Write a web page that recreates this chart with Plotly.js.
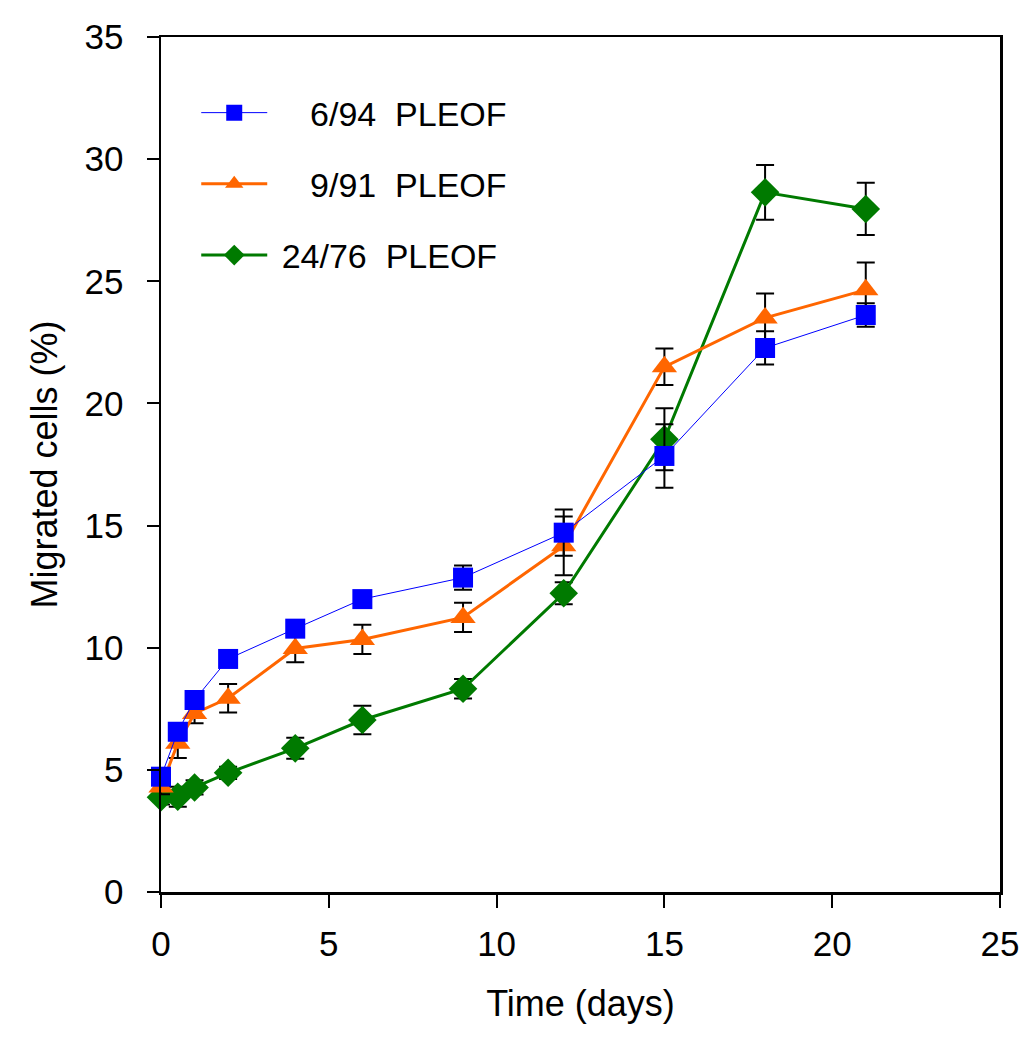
<!DOCTYPE html>
<html>
<head>
<meta charset="utf-8">
<script src="https://cdn.plot.ly/plotly-3.0.1.min.js"></script>
<style>
  html, body { margin: 0; padding: 0; background: #fff; }
  #chart { width: 1033px; height: 1050px; }
</style>
</head>
<body>
<div id="chart"></div>
<script>
// Time points (days)
const days = [0, 0.5, 1, 2, 4, 6, 9, 12, 15, 18, 21];

// 6/94 PLEOF
const pleof694 = [4.72, 6.56, 7.86, 9.54, 10.78, 11.99, 12.87, 14.71, 17.85, 22.27, 23.62];
const pleof694Err = [0.3, 0.3, 0.3, 0.3, 0.3, 0.3, 0.5, 0.95, 1.3, 0.68, 0.48];

// 9/91 PLEOF
const pleof991 = [4.3, 6.09, 7.31, 7.93, 9.97, 10.34, 11.24, 14.17, 21.5, 23.5, 24.65];
const pleof991Err = [0.3, 0.6, 0.4, 0.58, 0.57, 0.6, 0.6, 1.2, 0.75, 1.0, 1.12];

// 24/76 PLEOF
const pleof2476 = [3.88, 3.9, 4.28, 4.88, 5.88, 7.04, 8.32, 12.23, 18.53, 28.64, 27.96];
const pleof2476Err = [0.3, 0.41, 0.29, 0.25, 0.43, 0.58, 0.4, 0.45, 1.27, 1.12, 1.07];

const names = ["\u00a0\u00a0\u00a0\u00a06/94\u00a0 PLEOF", "\u00a0\u00a0\u00a0\u00a09/91\u00a0 PLEOF", "\u00a024/76\u00a0 PLEOF"];
const xTicks = [0, 5, 10, 15, 20, 25];
const yTicks = [0, 5, 10, 15, 20, 25, 30, 35];

const FONT = "Liberation Sans, Arial, sans-serif";

function errBar(arr) {
  return { type: 'data', array: arr, visible: true, color: '#000000', thickness: 2, width: 9 };
}

const traces = [
  {
    x: days, y: pleof2476, name: names[2], mode: 'lines+markers', type: 'scatter',
    line: { color: '#007A00', width: 3 },
    marker: { symbol: 'diamond', size: 22, color: '#007A00' },
    error_y: errBar(pleof2476Err), cliponaxis: false,
    legendgroup: 'c', legendrank: 3
  },
  {
    x: days, y: pleof991, name: names[1], mode: 'lines+markers', type: 'scatter',
    line: { color: '#FF6600', width: 3 },
    marker: { symbol: 'triangle-up', size: 22, color: '#FF6600' },
    error_y: errBar(pleof991Err), cliponaxis: false,
    legendgroup: 'b', legendrank: 2
  },
  {
    x: days, y: pleof694, name: names[0], mode: 'lines+markers', type: 'scatter',
    line: { color: '#0000FF', width: 1 },
    marker: { symbol: 'square', size: 20, color: '#0000FF' },
    error_y: errBar(pleof694Err), cliponaxis: false,
    legendgroup: 'a', legendrank: 1
  }
];

const layout = {
  width: 1033, height: 1050,
  margin: { l: 161, r: 33, t: 37, b: 158 },
  paper_bgcolor: '#ffffff', plot_bgcolor: '#ffffff',
  font: { family: FONT, size: 34, color: '#000' },
  showlegend: true,
  legend: {
    x: 0.042, y: 0.945, xanchor: 'left', yanchor: 'top',
    bgcolor: 'rgba(0,0,0,0)', font: { family: FONT, size: 34, color: '#000' },
    traceorder: 'grouped', tracegroupgap: 24, itemwidth: 66
  },
  xaxis: {
    range: [0, 25], tickvals: xTicks, ticktext: xTicks.map(String),
    showline: true, linecolor: '#000', linewidth: 2.5, mirror: true,
    ticks: 'outside', ticklen: 13, tickwidth: 2, tickcolor: '#000',
    showgrid: false, zeroline: false,
    tickfont: { family: FONT, size: 35 },
    ticklabelstandoff: 6,
    title: { text: 'Time (days)', font: { family: FONT, size: 36 }, standoff: 30 }
  },
  yaxis: {
    range: [0, 35], tickvals: yTicks, ticktext: yTicks.map(String),
    showline: true, linecolor: '#000', linewidth: 2.5, mirror: true,
    ticks: 'outside', ticklen: 12, tickwidth: 2, tickcolor: '#000',
    showgrid: false, zeroline: false,
    tickfont: { family: FONT, size: 35 },
    ticklabelstandoff: 16,
    title: { text: 'Migrated cells (%)', font: { family: FONT, size: 36 }, standoff: 16 }
  }
};

Plotly.newPlot('chart', traces, layout, { displayModeBar: false, staticPlot: true });
</script>
</body>
</html>
